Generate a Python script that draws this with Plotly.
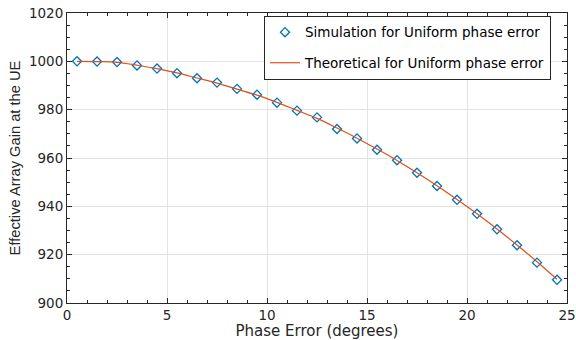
import plotly.graph_objects as go

phase_err = [0.5, 1.5, 2.5, 3.5, 4.5, 5.5, 6.5, 7.5, 8.5, 9.5, 10.5, 11.5, 12.5,
             13.5, 14.5, 15.5, 16.5, 17.5, 18.5, 19.5, 20.5, 21.5, 22.5, 23.5, 24.5]
sim_gain = [1000.0, 999.9, 999.7, 998.3, 997.0, 995.1, 993.0, 991.2, 988.6, 986.2,
            982.9, 979.6, 976.8, 972.0, 968.1, 963.4, 959.1, 953.9, 948.4, 942.7,
            936.9, 930.5, 923.9, 916.7, 909.6]
theo_gain = [1000.0, 999.9, 999.6, 998.4, 997.0, 995.2, 993.1, 991.0, 988.5, 986.0,
             983.0, 979.7, 976.4, 972.4, 968.2, 963.7, 959.0, 953.9, 948.5, 942.8,
             936.9, 930.6, 924.0, 917.1, 909.8]

wide = "DejaVu Sans, Verdana, sans-serif"
narrow = "Liberation Sans, Arial, sans-serif"
tick_font = dict(family=wide, size=13.5, color="#262626")

fig = go.Figure()
fig.add_trace(go.Scatter(
    x=phase_err, y=sim_gain, mode="markers",
    name="Simulation for Uniform phase error", legendgroup="a",
    marker=dict(symbol="diamond-open", size=7, color="#0072BD", line=dict(width=1.3, color="#0072BD")),
))
fig.add_trace(go.Scatter(
    x=phase_err, y=theo_gain, mode="lines",
    name="Theoretical for Uniform phase error", legendgroup="b",
    line=dict(color="#D95319", width=1.2, shape="spline"),
))

common = dict(
    showline=True, linecolor="#262626", linewidth=1, mirror="allticks",
    ticks="inside", ticklen=5, tickcolor="#262626",
    showgrid=True, gridcolor="#E3E3E3", gridwidth=1,
    zeroline=False, tickfont=tick_font, automargin=False,
)
fig.update_xaxes(range=[0, 25], dtick=5, tick0=0,
                 minor=dict(dtick=1, ticks="inside", ticklen=3, tickcolor="#262626", showgrid=False),
                 title=dict(text="Phase Error (degrees)", font=dict(family=wide, size=15, color="#262626"), standoff=2),
                 **common)
fig.update_yaxes(range=[900, 1020], dtick=20, tick0=900,
                 minor=dict(dtick=5, ticks="inside", ticklen=3, tickcolor="#262626", showgrid=False),
                 title=dict(text="Effective Array Gain at the UE", font=dict(family=narrow, size=14.7, color="#262626"), standoff=4),
                 **common)

fig.update_layout(
    width=576, height=340,
    margin=dict(l=67, r=9, t=13, b=37),
    paper_bgcolor="white", plot_bgcolor="white",
    legend=dict(x=0.968, y=0.99, xanchor="right", yanchor="top",
                bgcolor="white", bordercolor="#262626", borderwidth=1,
                font=dict(family=wide, size=13.5, color="#000000"),
                tracegroupgap=10),
    showlegend=True,
)

fig.write_html("out.html")
